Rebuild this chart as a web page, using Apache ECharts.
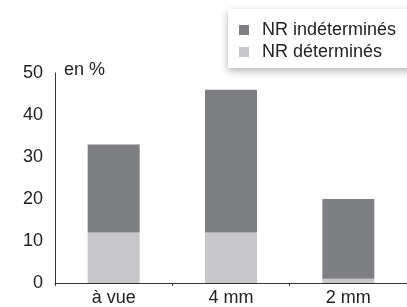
<!DOCTYPE html>
<html>
<head>
  <meta charset='utf-8'>
  <script src="https://cdn.jsdelivr.net/npm/echarts@6/dist/echarts.min.js"></script>
  <title>NR</title>
</head>
<body style="margin:0">
<div id="chart" style="width:407px;height:307px;"></div>
<script type="text/javascript">
  var categories = ['à vue', '4 mm', '2 mm'];
  var determines = [12, 12, 1];
  var indetermines = [21, 34, 19];
  var yTicks = [0, 10, 20, 30, 40, 50];

  var dark = '#7e7f83';
  var light = '#c8c8ca';
  var font = '"Liberation Sans", Arial, sans-serif';

  var myChart = echarts.init(document.getElementById('chart'));

  var option = {
    backgroundColor: '#ffffff',
    animation: false,
    textStyle: { fontFamily: font },
    grid: { left: 55, right: -8, top: 73, bottom: 24 },
    legend: {
      orient: 'vertical',
      left: 228,
      top: 9,
      data: ['NR indéterminés', 'NR déterminés'],
      icon: 'rect',
      itemWidth: 10,
      itemHeight: 10,
      itemGap: 4,
      padding: [12, 30, 7, 11],
      backgroundColor: '#ffffff',
      shadowColor: 'rgba(0,0,0,0.3)',
      shadowBlur: 8,
      shadowOffsetY: 3,
      textStyle: { fontSize: 18, color: '#222', fontFamily: font, padding: [0, 0, 0, 8] }
    },
    xAxis: {
      type: 'category',
      data: categories,
      axisLine: { lineStyle: { color: '#333', width: 1 } },
      axisTick: { show: true, length: 3, lineStyle: { color: '#333' } },
      axisLabel: { fontSize: 18, color: '#222', margin: 6, fontFamily: font }
    },
    yAxis: {
      type: 'value',
      min: 0,
      max: yTicks[yTicks.length - 1],
      interval: 10,
      axisLine: { show: true, lineStyle: { color: '#333', width: 1 } },
      axisTick: { show: false },
      splitLine: { show: false },
      axisLabel: { fontSize: 18, color: '#222', margin: 12, fontFamily: font }
    },
    graphic: [{
      type: 'text',
      left: 64,
      top: 61,
      style: { text: 'en %', fontSize: 18, fill: '#222', fontFamily: font }
    }],
    series: [{
      name: 'NR déterminés',
      type: 'bar',
      stack: 'nr',
      barWidth: 52,
      itemStyle: { color: light },
      data: determines
    }, {
      name: 'NR indéterminés',
      type: 'bar',
      stack: 'nr',
      barWidth: 52,
      itemStyle: { color: dark },
      data: indetermines
    }]
  };

  myChart.setOption(option);
</script>
</body>
</html>
